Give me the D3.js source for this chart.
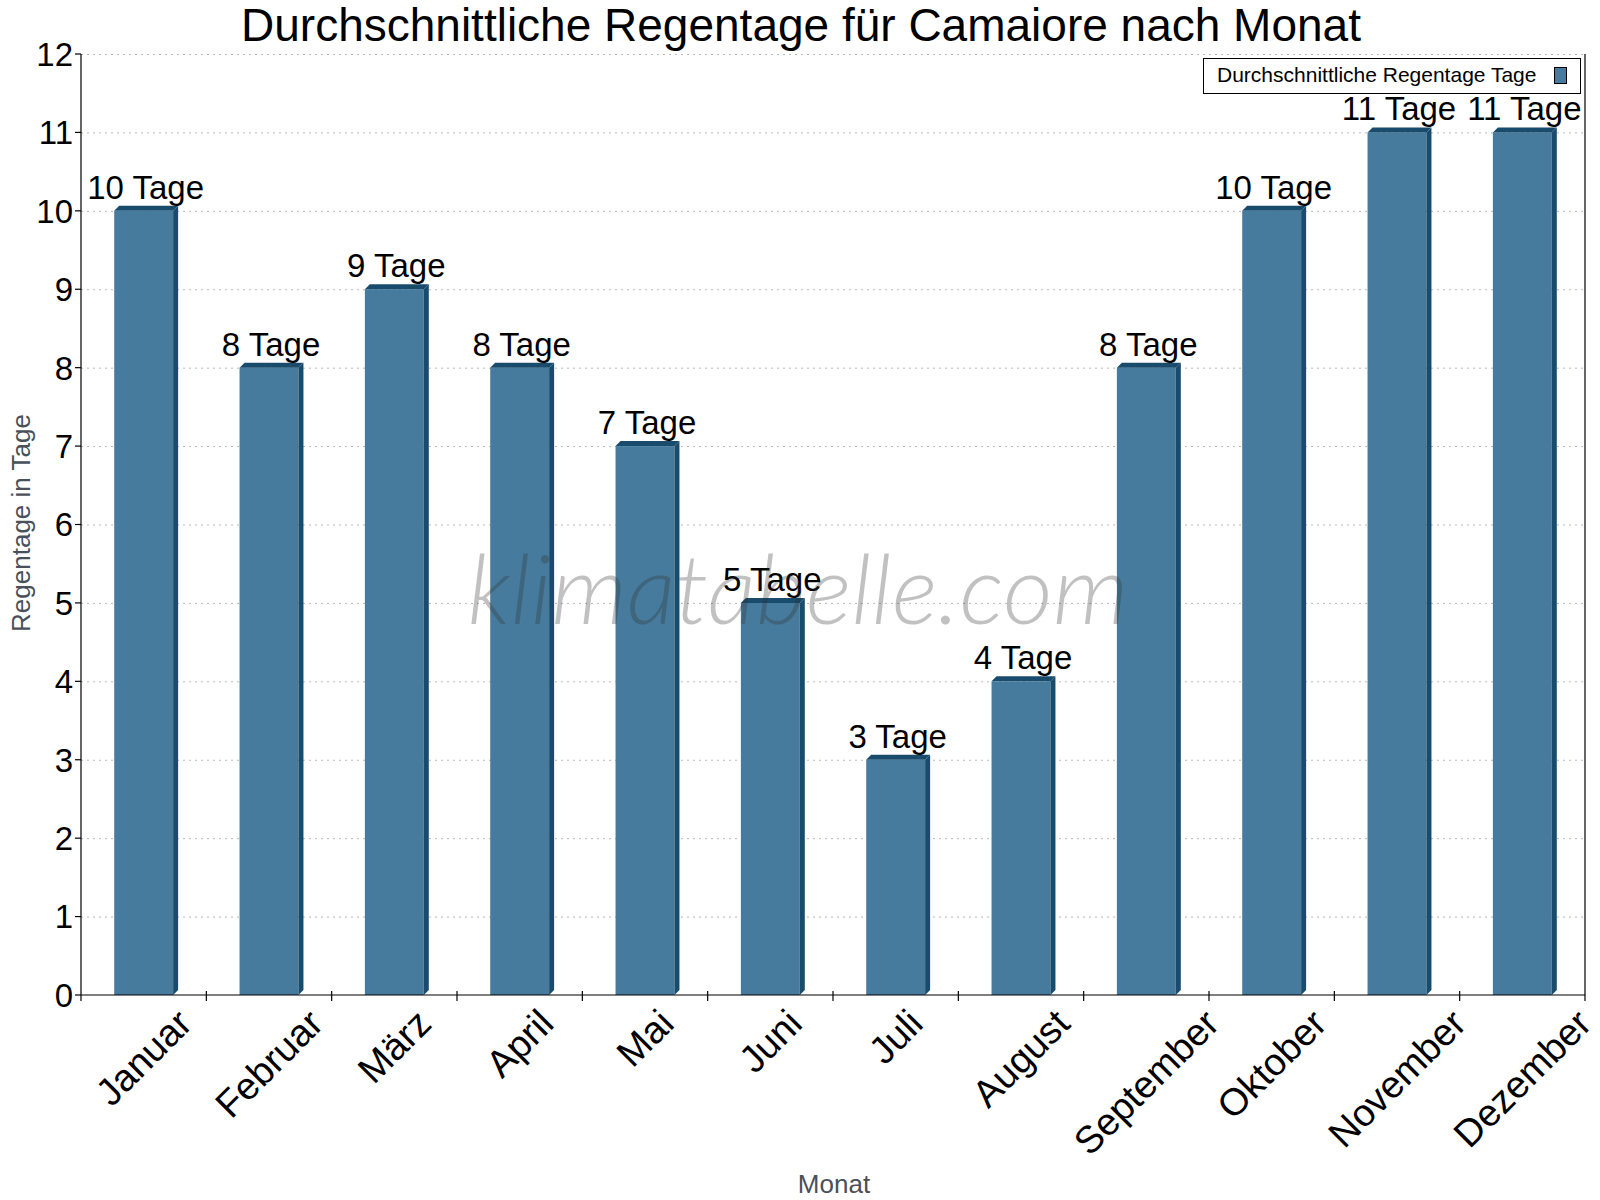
<!DOCTYPE html>
<html>
<head>
<meta charset="utf-8">
<script src="https://cdn.jsdelivr.net/npm/d3@7"></script>
<style>
  body { margin: 0; background: #fff; }
  svg { display: block; font-family: "Liberation Sans", Arial, sans-serif; }
</style>
</head>
<body>
<svg id="chart" width="1600" height="1200"></svg>
<script>
// ========== Data ==========
const months = ["Januar", "Februar", "März", "April", "Mai", "Juni",
                "Juli", "August", "September", "Oktober", "November", "Dezember"];
const rainDays = [10, 8, 9, 8, 7, 5, 3, 4, 8, 10, 11, 11];
const yTicks = [0, 1, 2, 3, 4, 5, 6, 7, 8, 9, 10, 11, 12];

const titleText = "Durchschnittliche Regentage für Camaiore nach Monat";
const legendText = "Durchschnittliche Regentage Tage";

// ========== Layout ==========
const svg = d3.select("#chart");
const plot = { left: 81, right: 1585, top: 54, bottom: 995 };
const frontColor = "#467b9d";
const sideColor = "#194b6c";
const depth = 5;

const x = d3.scaleBand()
    .domain(months)
    .range([plot.left, plot.right])
    .padding(0);

const y = d3.scaleLinear()
    .domain([0, 12])
    .range([plot.bottom, plot.top]);

// title
svg.append("text")
    .attr("x", 801)
    .attr("y", 41)
    .attr("text-anchor", "middle")
    .style("font-size", "46px")
    .text(titleText);

// gridlines
svg.append("g")
    .selectAll("line")
    .data(yTicks.filter(d => d > 0))
    .join("line")
    .attr("x1", plot.left)
    .attr("x2", plot.right)
    .attr("y1", d => y(d) + 0.5)
    .attr("y2", d => y(d) + 0.5)
    .attr("stroke", "#b8b8b8")
    .attr("stroke-width", 1)
    .attr("stroke-dasharray", "2,4");

// ========== Bars ==========
const frontW = x.bandwidth() * 0.47;
const bars = svg.append("g");

rainDays.forEach((v, i) => {
    const xc = x(months[i]) + x.bandwidth() / 2;
    const xl = xc - frontW / 2;
    const xr = xc + frontW / 2;
    const yt = y(v);
    const yb = y(0);

    bars.append("rect")
        .attr("x", xl)
        .attr("y", yt)
        .attr("width", frontW)
        .attr("height", yb - yt)
        .attr("fill", frontColor);

    // side face
    bars.append("path")
        .attr("d", `M${xr},${yt} L${xr + depth},${yt - depth} L${xr + depth},${yb - depth} L${xr},${yb} Z`)
        .attr("fill", sideColor);

    // top face
    bars.append("path")
        .attr("d", `M${xl},${yt} L${xl + depth},${yt - depth} L${xr + depth},${yt - depth} L${xr},${yt} Z`)
        .attr("fill", sideColor);

    bars.append("text")
        .attr("x", xc + 2)
        .attr("y", yt - 12)
        .attr("text-anchor", "middle")
        .style("font-size", "33px")
        .text(`${v} Tage`);
});

// watermark
svg.append("text")
    .attr("x", 798)
    .attr("y", 624)
    .attr("text-anchor", "middle")
    .style("font-family", "Lato, 'Liberation Sans', sans-serif")
    .style("font-weight", 300)
    .style("font-style", "italic")
    .style("font-size", "97px")
    .attr("fill", "#333")
    .attr("fill-opacity", 0.3)
    .text("klimatabelle.com");

// ========== Axes ==========
const axes = svg.append("g").attr("stroke", "#000").attr("stroke-width", 1.2);

axes.append("line")
    .attr("x1", plot.left).attr("x2", plot.left)
    .attr("y1", plot.top).attr("y2", plot.bottom + 6);

axes.append("line")
    .attr("x1", plot.right).attr("x2", plot.right)
    .attr("y1", plot.top).attr("y2", plot.bottom + 6);

axes.append("line")
    .attr("x1", plot.left).attr("x2", plot.right)
    .attr("y1", plot.bottom).attr("y2", plot.bottom);

axes.selectAll(".ytick")
    .data(yTicks)
    .join("line")
    .attr("x1", plot.left - 6)
    .attr("x2", plot.left)
    .attr("y1", d => y(d))
    .attr("y2", d => y(d));

svg.append("g")
    .selectAll("text")
    .data(yTicks)
    .join("text")
    .attr("x", plot.left - 8)
    .attr("y", d => y(d))
    .attr("dy", "0.36em")
    .attr("text-anchor", "end")
    .style("font-size", "33px")
    .text(d => d);

axes.selectAll(".xtick")
    .data(months.slice(1))
    .join("line")
    .attr("x1", d => x(d))
    .attr("x2", d => x(d))
    .attr("y1", plot.bottom - 4)
    .attr("y2", plot.bottom + 6);

// x labels, rotated -45 around their centre
const xLabels = svg.append("g")
    .selectAll("text")
    .data(months)
    .join("text")
    .attr("text-anchor", "middle")
    .attr("dominant-baseline", "central")
    .style("font-size", "38px")
    .text(d => d);

xLabels.attr("transform", function (d) {
    const w = this.getComputedTextLength();
    const cx = x(d) + x.bandwidth() / 2;
    const cy = 1006 + (w + 30) * Math.SQRT1_2 / 2;
    return `translate(${cx},${cy}) rotate(-45)`;
});

// axis titles
svg.append("text")
    .attr("x", 834)
    .attr("y", 1193)
    .attr("text-anchor", "middle")
    .attr("fill", "#4a5059")
    .style("font-size", "26px")
    .text("Monat");

svg.append("text")
    .attr("transform", "translate(30,523) rotate(-90)")
    .attr("text-anchor", "middle")
    .attr("fill", "#4a5059")
    .style("font-size", "26px")
    .text("Regentage in Tage");

// ========== Legend ==========
const legend = svg.append("g");
legend.append("rect")
    .attr("x", 1203.5)
    .attr("y", 58.5)
    .attr("width", 377)
    .attr("height", 35)
    .attr("fill", "#fff")
    .attr("stroke", "#000")
    .attr("stroke-width", 1);

legend.append("text")
    .attr("x", 1217)
    .attr("y", 82)
    .style("font-size", "21px")
    .text(legendText);

legend.append("rect")
    .attr("x", 1554.5)
    .attr("y", 67.5)
    .attr("width", 12)
    .attr("height", 16)
    .attr("fill", frontColor)
    .attr("stroke", "#000")
    .attr("stroke-width", 1);
</script>
</body>
</html>
